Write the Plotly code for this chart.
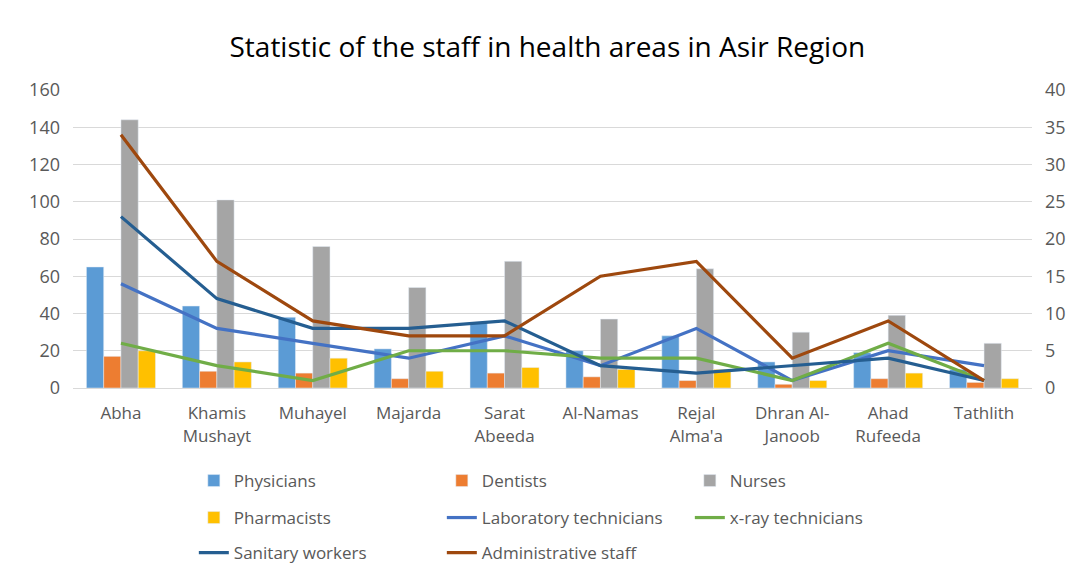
import plotly.graph_objects as go

categories = ["Abha", "Khamis<br>Mushayt", "Muhayel", "Majarda", "Sarat<br>Abeeda", "Al-Namas",
              "Rejal<br>Alma'a", "Dhran Al-<br>Janoob", "Ahad<br>Rufeeda", "Tathlith"]

physicians = [65, 44, 38, 21, 35, 20, 28, 14, 19, 10]
dentists = [17, 9, 8, 5, 8, 6, 4, 2, 5, 3]
nurses = [144, 101, 76, 54, 68, 37, 64, 30, 39, 24]
pharmacists = [20, 14, 16, 9, 11, 10, 10, 4, 8, 5]

lab_technicians = [14, 8, 6, 4, 7, 3, 8, 1, 5, 3]
xray_technicians = [6, 3, 1, 5, 5, 4, 4, 1, 6, 1]
sanitary_workers = [23, 12, 8, 8, 9, 3, 2, 3, 4, 1]
administrative_staff = [34, 17, 9, 7, 7, 15, 17, 4, 9, 1]

left_ticks = [0, 20, 40, 60, 80, 100, 120, 140, 160]
right_ticks = [0, 5, 10, 15, 20, 25, 30, 35, 40]

fig = go.Figure()
bar_series = [("Physicians", physicians, "#5B9BD5", "legend"),
              ("Dentists", dentists, "#ED7D31", "legend"),
              ("Nurses", nurses, "#A5A5A5", "legend"),
              ("Pharmacists", pharmacists, "#FFC000", "legend2")]
for name, vals, col, lg in bar_series:
    fig.add_trace(go.Bar(x=categories, y=vals, name=name, marker_color=col, yaxis="y", legend=lg))

line_series = [("Laboratory technicians", lab_technicians, "#4472C4", "legend2"),
               ("x-ray technicians", xray_technicians, "#70AD47", "legend2"),
               ("Sanitary workers", sanitary_workers, "#255E91", "legend3"),
               ("Administrative staff", administrative_staff, "#9E480E", "legend3")]
for name, vals, col, lg in line_series:
    fig.add_trace(go.Scatter(x=categories, y=vals, name=name, mode="lines",
                             line=dict(color=col, width=3.2), yaxis="y2", legend=lg))

font_fam = "'Open Sans', sans-serif"
tick_font = dict(family=font_fam, size=17, color="#595959")
ytick_font = dict(family=font_fam, size=18, color="#595959")

W, H = 1068, 559
plot_top, plot_bottom = 82, 380


def legend_row(ypix):
    return dict(orientation="h", x=0.126, xanchor="left",
                y=(plot_bottom - ypix) / (plot_bottom - plot_top), yanchor="middle",
                entrywidth=203, entrywidthmode="pixels", traceorder="normal",
                font=dict(family=font_fam, size=17, color="#595959"), bgcolor="rgba(0,0,0,0)")


fig.update_layout(
    width=W, height=H,
    paper_bgcolor="white", plot_bgcolor="white",
    margin=dict(l=65, r=44, t=plot_top, b=H - plot_bottom, autoexpand=False),
    title=dict(text="Statistic of the staff in health areas in Asir Region", x=0.505, xanchor="center",
               y=1 - 39 / H, yanchor="middle", font=dict(family=font_fam, size=28, color="#000000")),
    barmode="group", bargap=0.28, bargroupgap=0,
    font=dict(family=font_fam, size=17, color="#595959"),
    xaxis=dict(showgrid=False, showline=True, linecolor="#D9D9D9", ticks="", automargin=False,
               tickfont=tick_font, ticklabelstandoff=10),
    yaxis=dict(range=[0, 160], tickvals=left_ticks, showgrid=True, gridcolor="#D9D9D9",
               gridwidth=1, zeroline=False, ticks="", tickfont=ytick_font, automargin=False,
               ticklabelstandoff=12),
    yaxis2=dict(range=[0, 40], tickvals=right_ticks, overlaying="y", side="right",
                showgrid=False, zeroline=False, ticks="", tickfont=ytick_font, automargin=False,
                ticklabelstandoff=12),
    legend=legend_row(473),
    legend2=legend_row(510),
    legend3=legend_row(545),
)

fig.write_html("out.html")
